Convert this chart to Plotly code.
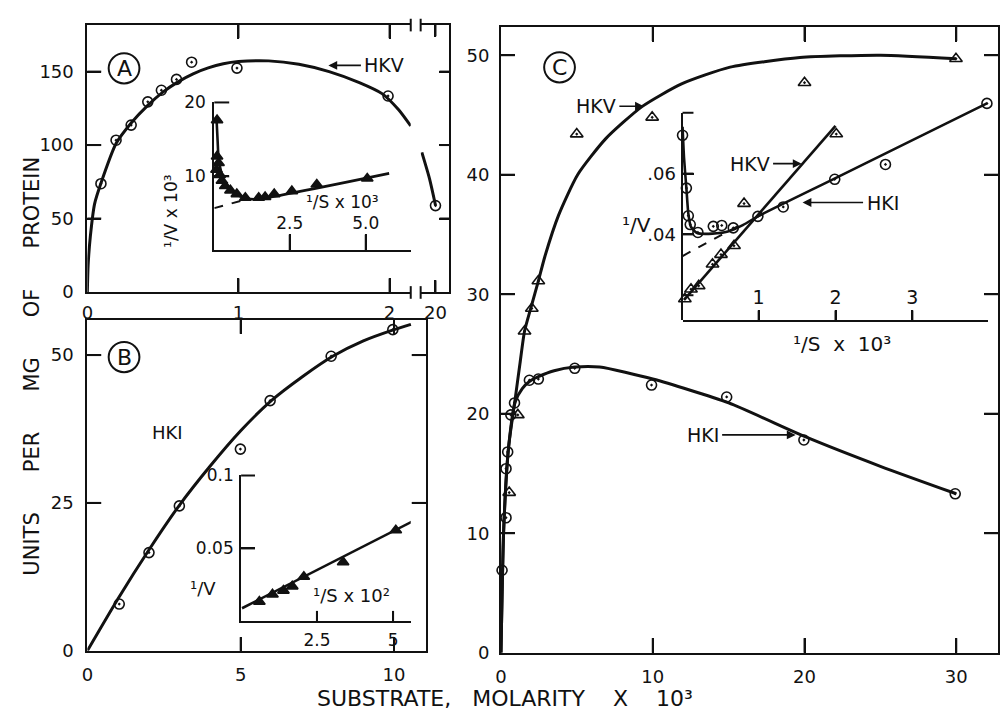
import plotly.graph_objects as go

W, H = 1000, 723
FONT = "DejaVu Sans"
BLK = "#111111"

# ---------------- data ----------------
# Panel A (HKV), main curve
A_x = [0.09, 0.19, 0.29, 0.40, 0.49, 0.59, 0.69, 0.99, 1.99]
A_y = [73.7, 103.3, 113.6, 129.4, 137.3, 144.7, 156.4, 152.4, 133.4]
A_curve_x = [0, 0.005, 0.02, 0.048, 0.09, 0.19, 0.29, 0.40, 0.5, 0.6, 0.7, 0.8, 0.9, 1.0,
             1.2, 1.4, 1.6, 1.8, 1.95, 2.06, 2.14]
A_curve_y = [0, 18, 38, 60, 74, 101, 115, 127, 136, 143, 148.5, 152.5, 155.3, 156.8,
             157.3, 155, 150, 142.5, 135, 124, 113]
A_far_x = [20]
A_far_y = [58.8]
A_far_curve_x = [19.54, 19.8, 20.0]
A_far_curve_y = [95, 77, 59]
A_xticks = [1, 2]
A_far_xticks = [20]
A_yticks = [50, 100, 150]

# Inset A (1/v x10^3 vs 1/S x10^3)
IA_x = [0.11, 0.11, 0.16, 0.09, 0.20, 0.27, 0.38, 0.55, 0.76, 1.04, 1.48, 1.69, 1.99, 2.57, 3.39, 5.05]
IA_y = [17.6, 12.7, 11.8, 10.9, 10.2, 9.4, 8.7, 8.1, 7.6, 7.1, 7.1, 7.2, 7.6, 8.0, 8.9, 9.7]
IA_curve_x = [0.09, 0.13, 0.16, 0.24, 0.33, 0.49, 0.65, 0.87, 1.08, 1.4, 5.77]
IA_curve_y = [18.0, 14.7, 12.4, 10.7, 9.3, 8.4, 7.8, 7.3, 7.0, 6.9, 10.4]
IA_dash_x = [0.02, 1.08]
IA_dash_y = [5.7, 6.9]
IA_xticks = [2.5, 5.0]
IA_yticks = [10, 20]

# Panel B (HKI)
B_x = [1.04, 2.01, 3.0, 4.99, 5.96, 7.95, 9.96]
B_y = [7.9, 16.6, 24.5, 34.1, 42.3, 49.8, 54.3]
B_curve_x = [0, 1, 2, 3, 4, 5, 6, 7, 8, 9, 10, 10.55]
B_curve_y = [0, 8.8, 17.0, 24.6, 31.2, 37.2, 42.3, 46.3, 49.8, 52.4, 54.3, 55.2]
B_xticks = [5, 10]
B_yticks = [25, 50]

# Inset B (1/v vs 1/S x10^2)
IB_x = [0.61, 1.04, 1.40, 1.69, 2.07, 3.36, 5.09]
IB_y = [0.0135, 0.0185, 0.0211, 0.0240, 0.0306, 0.0406, 0.0625]
IB_line_x = [0.04, 5.68]
IB_line_y = [0.009, 0.069]
IB_xticks = [2.5, 5]
IB_yticks = [0.05, 0.1]

# Panel C
C_hkv_x = [0.54, 1.11, 1.55, 2.03, 2.46, 4.99, 9.96, 20.0, 29.98]
C_hkv_y = [13.4, 19.9, 26.9, 28.8, 31.1, 43.4, 44.8, 47.7, 49.7]
C_hkv_curve_x = [0, 0.18, 0.5, 0.94, 1.25, 1.55, 2.0, 2.46, 2.9, 3.79, 5.05, 6.89, 9.29,
                 11.9, 15.1, 19.7, 25, 30]
C_hkv_curve_y = [0, 10.4, 17.2, 21.3, 24.2, 26.9, 29.0, 31.1, 33.2, 36.6, 40.0, 43.0, 45.7,
                 47.6, 49.0, 49.8, 50.0, 49.7]
C_hki_x = [0.07, 0.33, 0.33, 0.44, 0.65, 0.89, 1.87, 2.46, 4.86, 9.92, 14.87, 19.96, 29.93]
C_hki_y = [6.9, 11.3, 15.4, 16.8, 19.9, 20.9, 22.8, 22.9, 23.8, 22.4, 21.4, 17.8, 13.3]
C_hki_curve_x = [0, 0.18, 0.5, 0.94, 1.4, 1.87, 2.46, 3.5, 4.86, 6.5, 10, 15, 20, 25, 30]
C_hki_curve_y = [0, 10.4, 17.2, 21.0, 22.1, 22.7, 23.1, 23.6, 23.9, 23.9, 22.9, 20.9, 18.1, 15.6, 13.3]
C_xticks = [10, 20, 30]
C_yticks = [10, 20, 30, 40, 50]

# Inset C (1/v vs 1/S x10^3)
IC_hki_x = [0.01, 0.06, 0.085, 0.11, 0.21, 0.41, 0.52, 0.67, 0.99, 1.32, 1.99, 2.65, 3.97]
IC_hki_y = [0.0727, 0.0553, 0.0462, 0.0433, 0.0407, 0.0427, 0.0430, 0.0422, 0.0460, 0.0491, 0.0582, 0.0631, 0.0832]
IC_hki_curve_x = [0.01, 0.03, 0.06, 0.085, 0.12, 0.2, 0.4, 0.6, 0.8, 0.99, 2.0, 3.97]
IC_hki_curve_y = [0.0755, 0.065, 0.0553, 0.047, 0.0425, 0.0405, 0.0403, 0.041, 0.0432, 0.046, 0.0586, 0.0832]
IC_hki_dash_x = [0.01, 0.75]
IC_hki_dash_y = [0.0329, 0.043]
IC_hkv_x = [0.04, 0.12, 0.22, 0.40, 0.51, 0.68, 2.01, 0.81]
IC_hkv_y = [0.0188, 0.0220, 0.0231, 0.0302, 0.0334, 0.0363, 0.0731, 0.0502]
IC_hkv_line_x = [0.03, 2.0]
IC_hkv_line_y = [0.0185, 0.0758]
IC_xticks = [1, 2, 3]
IC_yticks = [0.02, 0.04, 0.06, 0.08]
IC_ylabels = {"0.02": ".02", "0.04": ".04", "0.06": ".06"}

# ---------------- layout geometry: axis -> (pixel span, range) ----------------
AX = {
    "x":  ((82, 408), [0, 2.14]),
    "y":  ((15, 290), [0, 182]),
    "x2": ((418, 447), [19.5, 20.47]),
    "y2": ((15, 290), [0, 182]),
    "x3": ((210, 408), [0.02, 6.48]),
    "y3": ((95, 247), [0.01, 20.01]),
    "x4": ((82, 423), [0, 11.03]),
    "y4": ((319, 659), [0, 55.9]),
    "x5": ((237, 408), [0.01, 5.58]),
    "y5": ((478, 628), [0.0005, 0.1005]),
    "x6": ((499, 1000), [0, 32.75]),
    "y6": ((17, 661), [0, 52.4]),
    "x7": ((682, 990), [0.01, 3.985]),
    "y7": ((92, 319), [0.0118, 0.0845]),
    "y8": ((106, 319), [0.0118, 0.0799]),
}

def dom(k):
    a, b = AX[k][0]
    if k.startswith("x"):
        return [a / W, b / W]
    return [1 - b / H, 1 - a / H]

def rng(k):
    return AX[k][1]

def px(x):
    return x / W

def py(y):
    return 1 - y / H

def ax(**kw):
    base = dict(showline=True, linecolor=BLK, linewidth=2, ticks="inside", ticklen=14,
                tickwidth=2, tickcolor=BLK, tickmode="linear", showgrid=False,
                zeroline=False, tickfont=dict(family=FONT, size=18, color=BLK), fixedrange=True)
    base.update(kw)
    return base

fig = go.Figure()

def line(x, y, xa, ya, w=3, dash="solid", shape="spline", smooth=0.7):
    ln = dict(color=BLK, width=w, dash=dash, shape=shape)
    if shape == "spline":
        ln["smoothing"] = smooth
    fig.add_trace(go.Scatter(x=x, y=y, xaxis=xa, yaxis=ya, mode="lines", line=ln,
                             showlegend=False, hoverinfo="skip"))

def pts(x, y, xa, ya, symbol, size=10):
    fig.add_trace(go.Scatter(x=x, y=y, xaxis=xa, yaxis=ya, mode="markers",
                             marker=dict(symbol=symbol, size=size, color=BLK,
                                         line=dict(color=BLK, width=1.6)),
                             cliponaxis=False, showlegend=False, hoverinfo="skip"))

# Panel A
line(A_curve_x, A_curve_y, "x", "y", smooth=0.6)
pts(A_x, A_y, "x", "y", "circle-open-dot")
line(A_far_curve_x, A_far_curve_y, "x2", "y2")
pts(A_far_x, A_far_y, "x2", "y2", "circle-open-dot")
# Inset A
line(IA_curve_x, IA_curve_y, "x3", "y3", w=2.6, smooth=0.6)
line(IA_dash_x, IA_dash_y, "x3", "y3", w=2, dash="dash", shape="linear")
pts(IA_x, IA_y, "x3", "y3", "triangle-up", size=10)
# Panel B
line(B_curve_x, B_curve_y, "x4", "y4")
pts(B_x, B_y, "x4", "y4", "circle-open-dot")
# Inset B
line(IB_line_x, IB_line_y, "x5", "y5", w=2.6, shape="linear")
pts(IB_x, IB_y, "x5", "y5", "triangle-up", size=10)
# Panel C
line(C_hkv_curve_x, C_hkv_curve_y, "x6", "y6", smooth=0.6)
line(C_hki_curve_x, C_hki_curve_y, "x6", "y6", smooth=0.6)
pts(C_hkv_x, C_hkv_y, "x6", "y6", "triangle-up-open-dot", size=11)
pts(C_hki_x, C_hki_y, "x6", "y6", "circle-open-dot")
# Inset C
line(IC_hki_curve_x, IC_hki_curve_y, "x7", "y7", w=2.6, smooth=0.6)
line(IC_hkv_line_x, IC_hkv_line_y, "x7", "y7", w=2.6, shape="linear")
line(IC_hki_dash_x, IC_hki_dash_y, "x7", "y8", w=2, dash="dash", shape="linear")
pts(IC_hki_x, IC_hki_y, "x7", "y7", "circle-open-dot")
pts(IC_hkv_x, IC_hkv_y, "x7", "y7", "triangle-up-open-dot", size=11)

ins_font = dict(family=FONT, size=17, color=BLK)

fig.update_layout(
    width=W, height=H, margin=dict(l=0, r=0, t=0, b=0),
    paper_bgcolor="white", plot_bgcolor="rgba(0,0,0,0)", showlegend=False,
    xaxis=ax(domain=dom("x"), range=rng("x"), tick0=0, dtick=1, mirror="ticks",
             anchor="y", ticklabelstandoff=3),
    yaxis=ax(domain=dom("y"), range=rng("y"), tick0=0, dtick=50, anchor="x",
             ticklabelstandoff=8),
    xaxis2=ax(domain=dom("x2"), range=rng("x2"), tick0=20, dtick=1, ticklen=12,
              mirror="ticks", anchor="y2", ticklabelstandoff=3),
    yaxis2=ax(domain=dom("y2"), range=rng("y2"), tick0=0, dtick=50, side="right",
              ticklen=10, showticklabels=False, anchor="x2"),
    xaxis3=ax(domain=dom("x3"), range=rng("x3"), tick0=0, dtick=2.5, tickformat=".1f",
              ticklen=16, anchor="y3", ticklabelposition="inside", ticklabelstandoff=2,
              tickfont=ins_font),
    yaxis3=ax(domain=dom("y3"), range=rng("y3"), tick0=0, dtick=10, ticklen=15,
              anchor="x3", tickfont=ins_font, ticklabelstandoff=3),
    xaxis4=ax(domain=dom("x4"), range=rng("x4"), tick0=0, dtick=5, mirror="ticks",
              anchor="y4", ticklabelstandoff=7),
    yaxis4=ax(domain=dom("y4"), range=rng("y4"), tick0=0, dtick=25, mirror="ticks",
              anchor="x4", ticklabelstandoff=8),
    xaxis5=ax(domain=dom("x5"), range=rng("x5"), tick0=0, dtick=2.5, ticklen=10,
              anchor="y5", tickfont=ins_font, ticklabelstandoff=3),
    yaxis5=ax(domain=dom("y5"), range=rng("y5"), tick0=0, dtick=0.05,
              anchor="x5", tickfont=ins_font, ticklabelstandoff=2),
    xaxis6=ax(domain=dom("x6"), range=rng("x6"), tick0=0, dtick=10, ticklen=15,
              mirror="ticks", anchor="y6", ticklabelstandoff=7),
    yaxis6=ax(domain=dom("y6"), range=rng("y6"), tick0=0, dtick=10, mirror="ticks",
              anchor="x6", ticklabelstandoff=6),
    xaxis7=ax(domain=dom("x7"), range=rng("x7"), tick0=0, dtick=1, ticklen=10,
              anchor="y7", ticklabelposition="inside", ticklabelstandoff=3,
              tickfont=dict(family=FONT, size=19, color=BLK)),
    yaxis7=dict(domain=dom("y7"), range=rng("y7"), anchor="x7", visible=False,
                fixedrange=True),
    yaxis8=ax(domain=dom("y8"), range=rng("y8"), tick0=0, dtick=0.02, ticklen=11,
              labelalias=IC_ylabels, anchor="x7",
              tickfont=dict(family=FONT, size=18, color=BLK), ticklabelstandoff=1),
)

# ---------------- tick marks as paper lines, placed by each axis' own mapping ----------------
def to_px(k, v):
    (a, b), (r0, r1) = AX[k]
    f = (v - r0) / (r1 - r0)
    if k.startswith("x"):
        return a + f * (b - a)
    return b - f * (b - a)

shapes = []

def seg(x0, y0, x1, y1):
    shapes.append(dict(type="line", xref="paper", yref="paper",
                       x0=px(x0), x1=px(x1), y0=py(y0), y1=py(y1),
                       line=dict(color=BLK, width=2)))

def tick_marks(xa, ya, xvals=(), yvals=(), xlen=14, ylen=14, bottom=True, top=False,
               left=True, right=False):
    (xl, xr), _ = AX[xa]
    (yt, yb), _ = AX[ya]
    for v in xvals:
        X = to_px(xa, v)
        if bottom:
            seg(X, yb, X, yb - xlen)
        if top:
            seg(X, yt, X, yt + xlen)
    for v in yvals:
        Y = to_px(ya, v)
        if left:
            seg(xl, Y, xl + ylen, Y)
        if right:
            seg(xr, Y, xr - ylen, Y)

tick_marks("x", "y", A_xticks, A_yticks, top=True)
tick_marks("x2", "y2", A_far_xticks, A_yticks, xlen=12, ylen=10, top=True, left=False,
           right=True)
tick_marks("x3", "y3", IA_xticks, IA_yticks, xlen=16, ylen=15)
tick_marks("x4", "y4", B_xticks, B_yticks, top=True, right=True)
tick_marks("x5", "y5", IB_xticks, IB_yticks, xlen=10, ylen=14)
tick_marks("x6", "y6", C_xticks, C_yticks, xlen=15, top=True, right=True)
tick_marks("x7", "y8", IC_xticks, IC_yticks, xlen=10, ylen=11)

# circled panel letters
for cx, cy in [(119, 60), (119, 357), (558, 59)]:
    r = 15.5
    shapes.append(dict(type="circle", xref="paper", yref="paper",
                       x0=px(cx - r), x1=px(cx + r), y0=py(cy + r), y1=py(cy - r),
                       line=dict(color=BLK, width=2)))
# axis break marks in panel A
for bx in (408, 418):
    for (t, b) in ((9, 22), (284, 297)):
        seg(bx, b, bx, t)
fig.update_layout(shapes=shapes)

# ---------------- texts ----------------
annots = []

def txt(x, y, s, size=18, angle=0):
    annots.append(dict(x=px(x), y=py(y), xref="paper", yref="paper", text=s, showarrow=False,
                       xanchor="center", yanchor="middle", textangle=angle,
                       font=dict(family=FONT, size=size, color=BLK)))

def arrow_label(tipx, tipy, tx, s, size=19):
    annots.append(dict(x=px(tipx), y=py(tipy), xref="paper", yref="paper", text=s,
                       showarrow=True, ax=tx - tipx, ay=0, arrowhead=2, arrowsize=1.1,
                       arrowwidth=1.6, arrowcolor=BLK, standoff=0, startstandoff=2,
                       font=dict(family=FONT, size=size, color=BLK)))

txt(119, 60, "A", size=22)
txt(119, 357, "B", size=22)
txt(558, 59, "C", size=22)

arrow_label(325, 57, 381, "HKV")
arrow_label(643, 99, 595, "HKV")
arrow_label(796, 437, 703, "HKI")
arrow_label(802, 158, 750, "HKV")
arrow_label(803, 198, 883, "HKI")
txt(163, 435, "HKI", size=18)

txt(167, 207, "¹/V x 10³", size=17, angle=-90)
txt(339, 197, "¹/S x 10³", size=17)
txt(199, 595, "¹/V", size=18)
txt(348, 602, "¹/S x 10²", size=18)
txt(636, 221, "¹/V", size=20)
txt(843, 343, "¹/S  x  10³", size=20)

txt(503, 708, "SUBSTRATE,   MOLARITY    X    10³", size=22)
txt(26, 366, "UNITS      PER      MG      OF      PROTEIN", size=21, angle=-90)

fig.update_layout(annotations=annots)

fig.write_html("out.html")
